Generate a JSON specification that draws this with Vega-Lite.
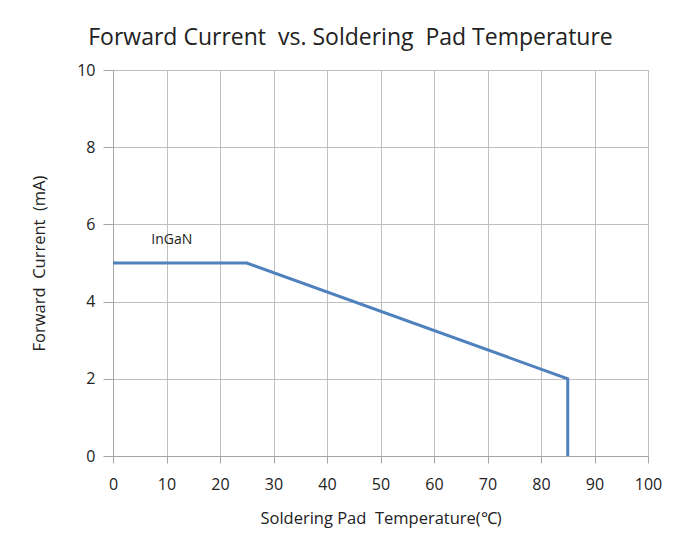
{
  "$schema": "https://vega.github.io/schema/vega-lite/v6.json",
  "width": 535,
  "height": 386,
  "autosize": {"type": "none"},
  "padding": {"left": 113, "top": 70, "right": 42, "bottom": 82},
  "background": "white",
  "config": {
    "font": "Open Sans",
    "view": {"stroke": "#a6a6a6", "strokeWidth": 1},
    "axis": {
      "gridColor": "#bfbfbf",
      "gridWidth": 1,
      "domainColor": "#a6a6a6",
      "tickColor": "#a6a6a6",
      "labelColor": "#222222",
      "labelFontSize": 16,
      "labelFlush": false,
      "titleColor": "#222222",
      "titleFontSize": 16.5,
      "titleFontWeight": "normal"
    }
  },
  "title": {
    "text": "Forward Current\u00a0 vs. Soldering\u00a0 Pad Temperature",
    "fontSize": 23,
    "fontWeight": "normal",
    "color": "#222222",
    "anchor": "middle",
    "dx": -30,
    "offset": 12
  },
  "layer": [
    {
      "data": {"values": [
        {"t": 0, "i": 5},
        {"t": 25, "i": 5},
        {"t": 85, "i": 2},
        {"t": 85, "i": 0}
      ]},
      "mark": {"type": "line", "color": "#4f81bd", "strokeWidth": 3},
      "encoding": {
        "x": {"field": "t", "type": "quantitative", "scale": {"domain": [0, 100], "nice": false},
              "axis": {"values": [0,10,20,30,40,50,60,70,80,90,100], "title": "Soldering Pad\u00a0 Temperature(℃)", "tickSize": 7, "labelPadding": 13, "titlePadding": 18}},
        "y": {"field": "i", "type": "quantitative", "scale": {"domain": [0, 10], "nice": false},
              "axis": {"values": [0,2,4,6,8,10], "title": "Forward\u00a0 Current\u00a0 (mA)", "tickSize": 10, "labelPadding": 8, "titlePadding": 29}},
        "order": {"field": "t", "type": "quantitative"}
      }
    },
    {
      "data": {"values": [{"t": 11, "i": 5.6, "label": "InGaN"}]},
      "mark": {"type": "text", "fontSize": 14, "color": "#222222"},
      "encoding": {
        "x": {"field": "t", "type": "quantitative"},
        "y": {"field": "i", "type": "quantitative"},
        "text": {"field": "label"}
      }
    }
  ]
}
